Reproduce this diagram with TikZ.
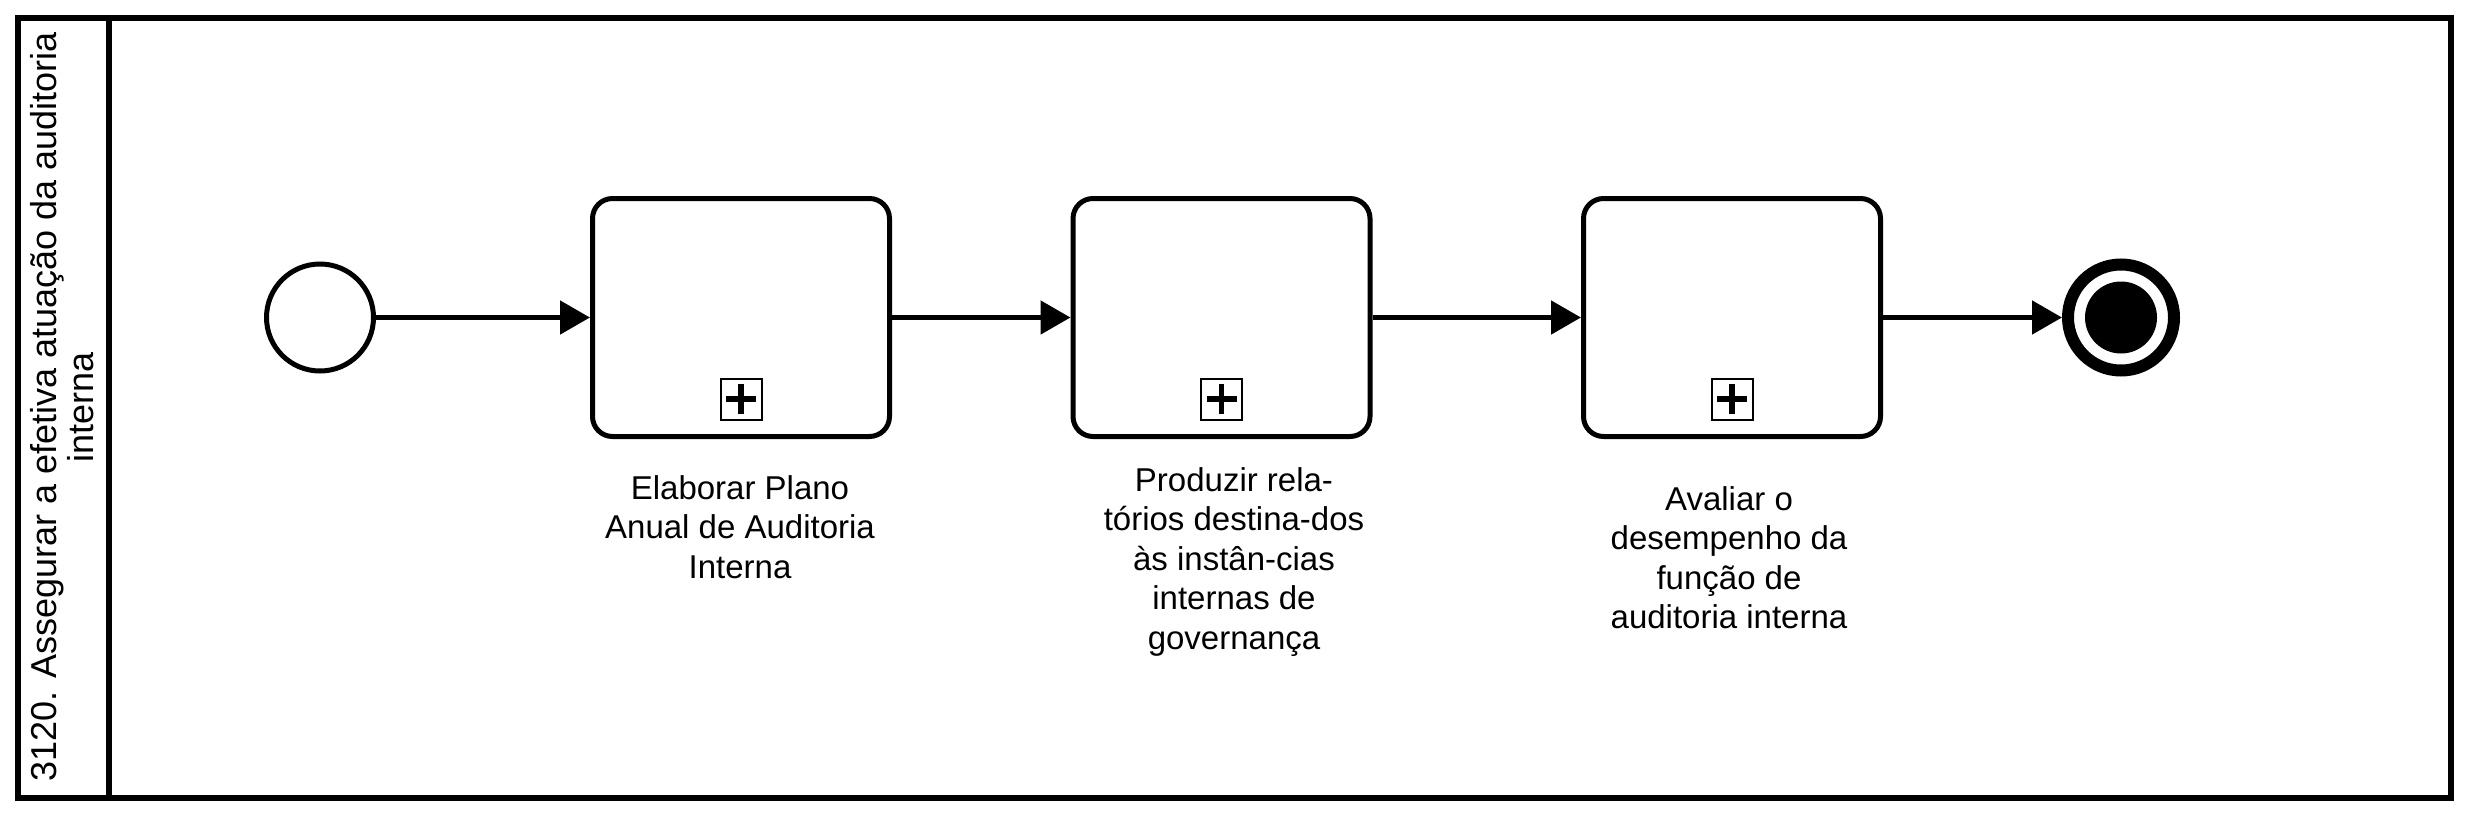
\documentclass[tikz,border=0pt]{standalone}
\usepackage{fontspec}
\setmainfont{Liberation Sans}
\usetikzlibrary{arrows.meta,calc}
\begin{document}
\begin{tikzpicture}[x=1pt,y=-1pt,
  task/.style={draw, line width=5pt, rounded corners=20pt, minimum width=297pt, minimum height=238pt, inner sep=0pt, fill=white},
  startev/.style={draw, circle, line width=5pt, minimum size=107pt, inner sep=0pt},
  endev/.style={draw, circle, line width=12pt, minimum size=106pt, inner sep=0pt},
  plusbox/.style={draw, line width=2pt, minimum size=41pt, inner sep=0pt,
    path picture={
      \draw[line width=5.5pt] ([xshift=-15pt]path picture bounding box.center) -- ([xshift=15pt]path picture bounding box.center);
      \draw[line width=5.5pt] ([yshift=-15pt]path picture bounding box.center) -- ([yshift=15pt]path picture bounding box.center);
    }},
  lbl/.style={anchor=north, align=center, inner sep=0pt, font=\fontsize{33pt}{39.5pt}\selectfont},
  flow/.style={line width=5pt, -{Triangle[length=30pt,width=33pt]}}
]
\useasboundingbox (0,0) rectangle (2469,816);
\fill[white] (0,0) rectangle (2469,816);
% pool and lane header
\draw[line width=6pt] (18,18) rectangle (2451,798);
\draw[line width=6pt] (109,18) -- (109,798);
\node[rotate=90, align=center, inner sep=0pt, font=\fontsize{36pt}{37pt}\selectfont] (lane) at (62,407)
  {3120. Assegurar a efetiva atuação da auditoria\\interna};
% events and tasks
\node[startev] (start) at (320,317.5) {};
\node[task] (t1) at (741,317.5) {};
\node[task] (t2) at (1221.5,317.5) {};
\node[task] (t3) at (1732,317.5) {};
\node[endev] (end) at (2121,317.5) {};
\fill (end.center) circle[radius=36pt];
% subprocess markers
\node[plusbox] (p1) at ([yshift=40pt]t1.south) {};
\node[plusbox] (p2) at ([yshift=40pt]t2.south) {};
\node[plusbox] (p3) at ([yshift=40pt]t3.south) {};
% labels
\node[lbl] (l1) at (740,475) {Elaborar Plano\\Anual de Auditoria\\Interna};
\node[lbl] (l2) at (1234,467) {Produzir rela-\\tórios destina-dos\\às instân-cias\\internas de\\governança};
\node[lbl] (l3) at (1729,486) {Avaliar o\\desempenho da\\função de\\auditoria interna};
% flows
\draw[flow] (start) -- (t1);
\draw[flow] (t1) -- (t2);
\draw[flow] (t2) -- (t3);
\draw[flow] (t3) -- (end);
\end{tikzpicture}
\end{document}
